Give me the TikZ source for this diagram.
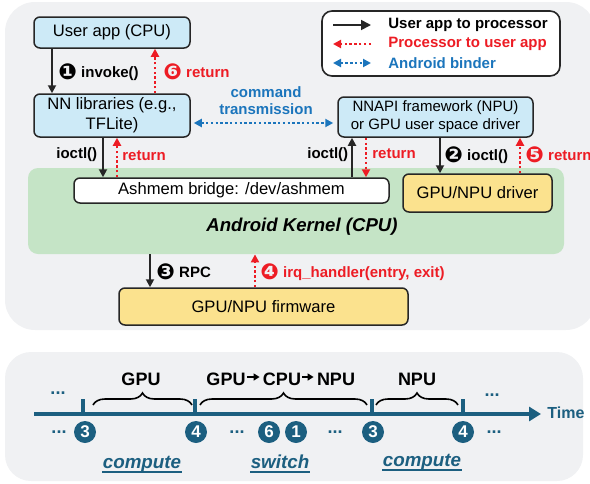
\documentclass[tikz,border=0pt]{standalone}
\usepackage{fontspec}
\setmainfont{Liberation Sans}
\newfontfamily\dingfont{DejaVu Sans}
\usetikzlibrary{arrows.meta,positioning,decorations.pathreplacing}

\definecolor{appblue}{HTML}{CDEAF7}
\definecolor{drvyellow}{HTML}{FBE28E}
\definecolor{krngreen}{HTML}{C5E4C6}
\definecolor{panelgrey}{HTML}{F0F1F3}
\definecolor{tblue}{HTML}{1C5F80}
\definecolor{retred}{HTML}{ED1C24}
\definecolor{bindblue}{HTML}{1B75BC}

\newcommand{\dnum}[1]{\raisebox{-0.9pt}{\dingfont\fontsize{11}{11}\selectfont #1}}

\tikzset{
	>={Triangle[length=4pt,width=4pt]},
	appbox/.style={
		rectangle,
		rounded corners=3pt,
		draw=black!85,
		line width=0.75pt,
		fill=appblue,
		inner sep=0pt,
		font=\fontsize{8.3}{10}\selectfont,
		align=center},
	drvbox/.style={
		appbox,
		fill=drvyellow},
	legendbox/.style={
		rectangle,
		rounded corners=5pt,
		draw=black!85,
		line width=0.8pt,
		fill=white,
		minimum width=119pt,
		minimum height=32.5pt},
	flowedge/.style={
		->,
		line width=0.9pt,
		draw=black!85},
	retedge/.style={
		->,
		line width=1pt,
		draw=retred,
		dash pattern=on 1.2pt off 1.2pt},
	binderedge/.style={
		<->,
		line width=1pt,
		draw=bindblue,
		dash pattern=on 1.2pt off 1.2pt},
	lbl/.style={
		anchor=west,
		inner sep=0pt,
		font=\fontsize{7.5}{9}\selectfont\bfseries},
	timeline/.style={
		-{Triangle[length=6pt,width=7pt]},
		line width=1.8pt,
		draw=tblue},
	tick/.style={
		line width=1.6pt,
		draw=tblue},
	tbrace/.style={
		decorate,
		decoration={brace,amplitude=6pt},
		line width=0.8pt},
	tnum/.style={
		circle,
		fill=tblue,
		text=white,
		inner sep=0pt,
		minimum size=11pt,
		font=\fontsize{8.5}{9}\selectfont\bfseries},
	tdots/.style={
		inner sep=0pt,
		text=tblue,
		font=\fontsize{9}{10}\selectfont\bfseries},
	proc/.style={
		inner sep=0pt,
		font=\fontsize{9}{10}\selectfont\bfseries},
	tword/.style={
		inner sep=0pt,
		text=tblue,
		text height=7pt,
		text depth=1.6pt,
		font=\fontsize{9.4}{10}\selectfont\bfseries\itshape}
}

\begin{document}
\begin{tikzpicture}[x=0.5pt, y=-0.5pt]
    \clip (0,0) rectangle (590,483);

    % panels
    \fill[panelgrey, rounded corners=15pt] (5,2) rectangle (596,330);
    \fill[panelgrey, rounded corners=13pt] (5,352) rectangle (583,481);

    % kernel
    \node[fill=krngreen, rounded corners=5pt, minimum width=268pt,
          minimum height=43pt] (kern) at (296,211) {};
    \node[font=\fontsize{9.3}{10}\selectfont\bfseries\itshape]
          (kerntxt) at (302,227) {Android Kernel (CPU)};

    % boxes
    \node[appbox, minimum width=78pt, minimum height=15.5pt] (usr) at (112,32.5) {User app (CPU)};
    \node[appbox, minimum width=78pt, minimum height=21.5pt] (nn) at (112,115.5) {NN libraries (e.g.,\\TFLite)};
    \node[appbox, minimum width=97.5pt, minimum height=20pt,
          font=\fontsize{7.5}{9}\selectfont] (nnapi) at (435.5,117) {NNAPI framework (NPU)\\or GPU user space driver};
    \node[appbox, fill=white, minimum width=157.5pt, minimum height=12.5pt] (ash) at (231.5,190.5) {Ashmem bridge: /dev/ashmem};
    \node[drvbox, minimum width=74.5pt, minimum height=19pt] (drv) at (477.5,193) {GPU/NPU driver};
    \node[drvbox, minimum width=144.5pt, minimum height=18.5pt] (fw) at (263.5,306.5) {GPU/NPU firmware};

    % legend
    \node[legendbox] (legend) at (441,43.5) {};
    \coordinate (lgaL) at (333,25);  \coordinate (lgaR) at (371,25);
    \coordinate (lgbL) at (333,44);  \coordinate (lgbR) at (371,44);
    \coordinate (lgcL) at (333,63);  \coordinate (lgcR) at (371,63);
    \draw[flowedge, >={Triangle[length=5pt,width=5pt]}] (lgaL) -- (lgaR);
    \draw[retedge] (lgbR) -- (lgbL);
    \draw[binderedge] (lgcL) -- (lgcR);
    \node[lbl] (lgt1) at (388,25) {User app to processor};
    \node[lbl, text=retred] (lgt2) at (388,44) {Processor to user app};
    \node[lbl, text=bindblue] (lgt3) at (388,63) {Android binder};

    % user app <-> NN libraries
    \draw[flowedge] ([xshift=-30pt]usr.south) -- ([xshift=-30pt]nn.north);
    \draw[retedge] ([xshift=21.5pt]nn.north) -- ([xshift=21.5pt]usr.south);
    \node[lbl] (invk) at (58,72) {\dnum{❶} invoke()};
    \node[lbl, text=retred] (ret6) at (163,72) {\dnum{❻} return};

    % binder
    \coordinate (bindL) at ([xshift=1.5pt,yshift=-3.75pt]nn.east);
    \coordinate (bindR) at ([xshift=-2pt]bindL -| nnapi.west);
    \draw[binderedge] (bindL) -- (bindR);
    \node[lbl, anchor=center, align=center, text=bindblue,
          font=\fontsize{7.5}{8.5}\selectfont\bfseries] (cmd) at (266,101) {command\\transmission};

    % NN libraries <-> ashmem
    \coordinate (ioL) at ([xshift=-4.5pt]nn.south);
    \coordinate (retL) at ([xshift=2.5pt]nn.south);
    \draw[flowedge] (ioL) -- (ioL |- ash.north);
    \draw[retedge] (retL |- ash.north) -- (retL);
    \node[lbl] (ioLt) at (56,155) {ioctl()};
    \node[lbl, text=retred] (retLt) at (122,156) {return};

    % ashmem <-> NNAPI
    \coordinate (ioR) at ([xshift=-41.75pt]nnapi.south);
    \coordinate (retR) at ([xshift=-34.75pt]nnapi.south);
    \draw[flowedge] (ioR |- ash.north) -- (ioR);
    \draw[retedge] (retR) -- (retR |- ash.north);
    \node[lbl] (ioRt) at (307,155) {ioctl()};
    \node[lbl, text=retred] (retRt) at (372,154) {return};

    % NNAPI <-> driver
    \coordinate (io2) at ([xshift=2.25pt]nnapi.south);
    \coordinate (ret5) at ([xshift=42.25pt]nnapi.south);
    \draw[flowedge] (io2) -- (io2 |- drv.north);
    \draw[retedge] (ret5 |- drv.north) -- (ret5);
    \node[lbl] (io2t) at (444,155) {\dnum{❷} ioctl()};
    \node[lbl, text=retred] (ret5t) at (525,155) {\dnum{❺} return};

    % kernel <-> firmware
    \coordinate (rpc) at ([xshift=-56.75pt]fw.north);
    \coordinate (irq) at ([xshift=-4.25pt]fw.north);
    \draw[flowedge] (rpc |- kern.south) -- (rpc);
    \draw[retedge] (irq) -- (irq |- kern.south);
    \node[lbl] (rpct) at (156,272) {\dnum{❸} RPC};
    \node[lbl, text=retred] (irqt) at (260,272) {\dnum{❹} irq\_handler(entry, exit)};

    % timeline
    \coordinate (tstart) at (34,414);
    \coordinate (tend) at (541,414);
    \draw[timeline] (tstart) -- (tend);
    \node[proc, text=tblue, font=\fontsize{8}{9}\selectfont\bfseries, anchor=west] (time) at (547,413) {Time};
    \foreach \tx/\tn in {83/a,195/b,372/c,463/d} {
        \coordinate (tick\tn) at (\tx,415);
        \draw[tick] (tick\tn) -- ++(0,-16);
    }

    % braces
    \draw[tbrace] (93,405) -- (192,405);
    \draw[tbrace] (200,405) -- (367,405);
    \draw[tbrace] (376,405) -- (458,405);
    \node[proc] (gpu) at (141,379) {GPU};
    \node[proc] (gA) at (226,379) {GPU};
    \node[proc] (cA) at (282,379) {CPU};
    \node[proc] (nA) at (336,379) {NPU};
    \draw[-{Triangle[length=3pt,width=3.5pt]}, line width=0.9pt]
        ([xshift=0.5pt,yshift=1pt]gA.east) -- ([xshift=-1.5pt,yshift=1pt]cA.west);
    \draw[-{Triangle[length=3pt,width=3.5pt]}, line width=0.9pt]
        ([xshift=0.5pt,yshift=1pt]cA.east) -- ([xshift=-1.5pt,yshift=1pt]nA.west);
    \node[proc] (npu) at (417,379) {NPU};

    % events
    \node[tdots] (dA) at (58,393) {...};
    \node[tdots] (dB) at (59,432) {...};
    \node[tdots] (dC) at (237,432) {...};
    \node[tdots] (dD) at (335,432) {...};
    \node[tdots] (dE) at (494,432) {...};
    \node[tdots] (dF) at (492,395) {...};
    \node[tnum] (e3a) at (85,432) {3};
    \node[tnum] (e4a) at (196,432) {4};
    \node[tnum] (e6) at (269,432) {6};
    \node[tnum] (e1) at (296,432) {1};
    \node[tnum] (e3b) at (373,432) {3};
    \node[tnum] (e4b) at (463,432) {4};

    % phases
    \node[tword] (wc1) at (142,463) {compute};
    \node[tword] (ws) at (280,463) {switch};
    \node[tword] (wc2) at (422,461) {compute};
    \foreach \w in {wc1,ws,wc2}
        \draw[tblue, line width=1pt] (\w.south west) -- (\w.south east);
\end{tikzpicture}
\end{document}
